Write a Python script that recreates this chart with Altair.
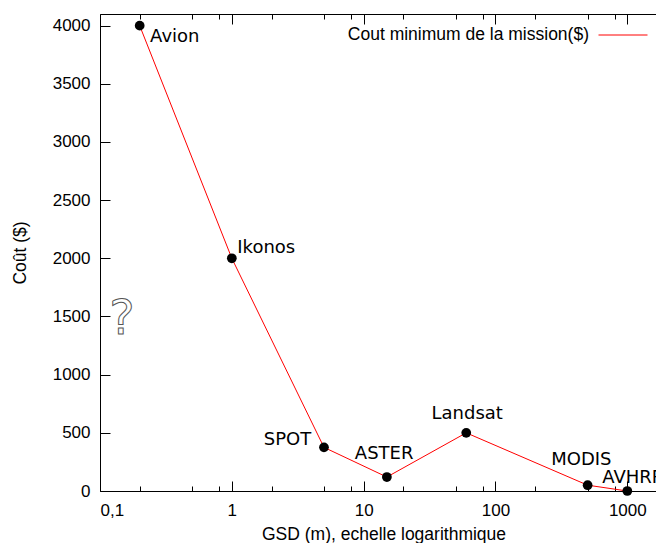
import altair as alt
import pandas as pd

# ---- data ----
missions = ["Avion", "Ikonos", "SPOT", "ASTER", "Landsat", "MODIS", "AVHRR"]
gsd = [0.2, 1, 5, 15, 60, 500, 1000]
cost = [4000, 2000, 375, 120, 500, 50, 0]
# label anchor points (data units) and alignment, as placed in the original
label_x = [0.24, 1.1, 4.0, 14.3, 61, 448, 646]
label_y = [3905, 2085, 435, 315, 660, 263, 114]
label_align = ["left", "left", "right", "center", "center", "center", "left"]
series_name = "Cout minimum de la mission($)"

x_major = [0.1, 1, 10, 100, 1000]
x_minor = [0.2, 0.5, 0.8, 2, 5, 8, 20, 50, 80, 200, 500, 800]
y_ticks = [0, 500, 1000, 1500, 2000, 2500, 3000, 3500, 4000]
x_domain = [0.1, 2000]
y_domain = [0, 4100]

qmark_x = [0.147]
qmark_y = [1470]

df = pd.DataFrame({
    "mission": missions, "gsd": gsd, "cost": cost,
    "lx": label_x, "ly": label_y, "align": label_align,
    "serie": [series_name] * len(missions),
})
qdf = pd.DataFrame({"qx": qmark_x, "qy": qmark_y, "t": ["?"]})

W, H = 567, 477
AX_FONT = "Liberation Sans"
LBL_FONT = "DejaVu Sans"

xscale = alt.Scale(type="log", domain=x_domain, nice=False)
yscale = alt.Scale(domain=y_domain, nice=False, zero=False)


def tick_axis(orient, values, size, offset, domain=False):
    return alt.Axis(orient=orient, values=values, labels=False, ticks=True,
                    tickSize=size, tickColor="black", tickWidth=1,
                    domain=domain, domainColor="black", domainWidth=1,
                    offset=offset, title=None, grid=False)


x_main_axis = alt.Axis(
    orient="bottom", values=x_major,
    labelExpr="replace(toString(datum.value), '.', ',')",
    ticks=False, labelPadding=11, domain=True, domainColor="black", domainWidth=1,
    labelFont=AX_FONT, labelFontSize=17, labelColor="black",
    title="GSD (m), echelle logarithmique", titleFont=AX_FONT, titleFontSize=17.5,
    titleFontWeight="normal", titleColor="black", titleY=43, titleBaseline="middle",
    grid=False,
)
y_main_axis = alt.Axis(
    orient="left", values=y_ticks, format="d", ticks=False, labelPadding=10,
    domain=True, domainColor="black", domainWidth=1,
    labelFont=AX_FONT, labelFontSize=17, labelColor="black",
    title="Coût ($)", titleFont=AX_FONT, titleFontSize=17.5, titleFontWeight="normal",
    titleColor="black", titleX=-80, titleY=H / 2, titleBaseline="middle", titleAngle=270,
    grid=False,
)

base = alt.Chart(df)

line = base.mark_line(strokeWidth=1).encode(
    x=alt.X("gsd:Q", scale=xscale, axis=x_main_axis),
    y=alt.Y("cost:Q", scale=yscale, axis=y_main_axis),
    color=alt.Color("serie:N", scale=alt.Scale(range=["#ff0000"]),
                    legend=alt.Legend(orient="none", legendX=498, legendY=-4,
                                      title=None, symbolType="stroke", symbolSize=2401,
                                      symbolStrokeWidth=1, labelAlign="right",
                                      labelOffset={"expr": "-59"}, labelFont=AX_FONT,
                                      labelFontSize=17.5, labelColor="black",
                                      labelLimit=500, padding=0)),
)

points = base.mark_circle(size=95, color="black", opacity=1).encode(
    x=alt.X("gsd:Q", scale=xscale, axis=tick_axis("top", x_major, 10, -H)),
    y=alt.Y("cost:Q", scale=yscale, axis=tick_axis("right", y_ticks, 10, -W)),
)


def labels(align, xaxis, yaxis):
    return base.transform_filter(alt.datum.align == align).mark_text(
        font=LBL_FONT, fontSize=18, align=align, baseline="middle", color="black"
    ).encode(
        x=alt.X("lx:Q", scale=xscale, axis=xaxis),
        y=alt.Y("ly:Q", scale=yscale, axis=yaxis),
        text="mission:N",
    )


lab_left = labels("left", tick_axis("top", x_minor, 5, -H),
                  tick_axis("left", y_ticks, 10, -W))
lab_right = labels("right", tick_axis("bottom", x_major, 10, -H, domain=True), None)
lab_center = labels("center", tick_axis("bottom", x_minor, 5, -H), None)

qmark = alt.Chart(qdf).mark_text(
    font=LBL_FONT, fontSize=48, baseline="middle", align="center",
    fill="white", stroke="#555555", strokeWidth=1,
).encode(
    x=alt.X("qx:Q", scale=xscale, axis=None),
    y=alt.Y("qy:Q", scale=yscale, axis=None),
    text="t:N",
)

chart = alt.layer(line, points, lab_left, lab_right, lab_center, qmark).resolve_axis(
    x="independent", y="independent"
).properties(
    width=W, height=H,
    autosize=alt.AutoSizeParams(type="none"),
    padding={"left": 92, "top": 6, "right": -11, "bottom": 52},
).configure_view(stroke=None).configure(background="white")

chart.save("out.html", embed_options={"renderer": "svg", "actions": False})
